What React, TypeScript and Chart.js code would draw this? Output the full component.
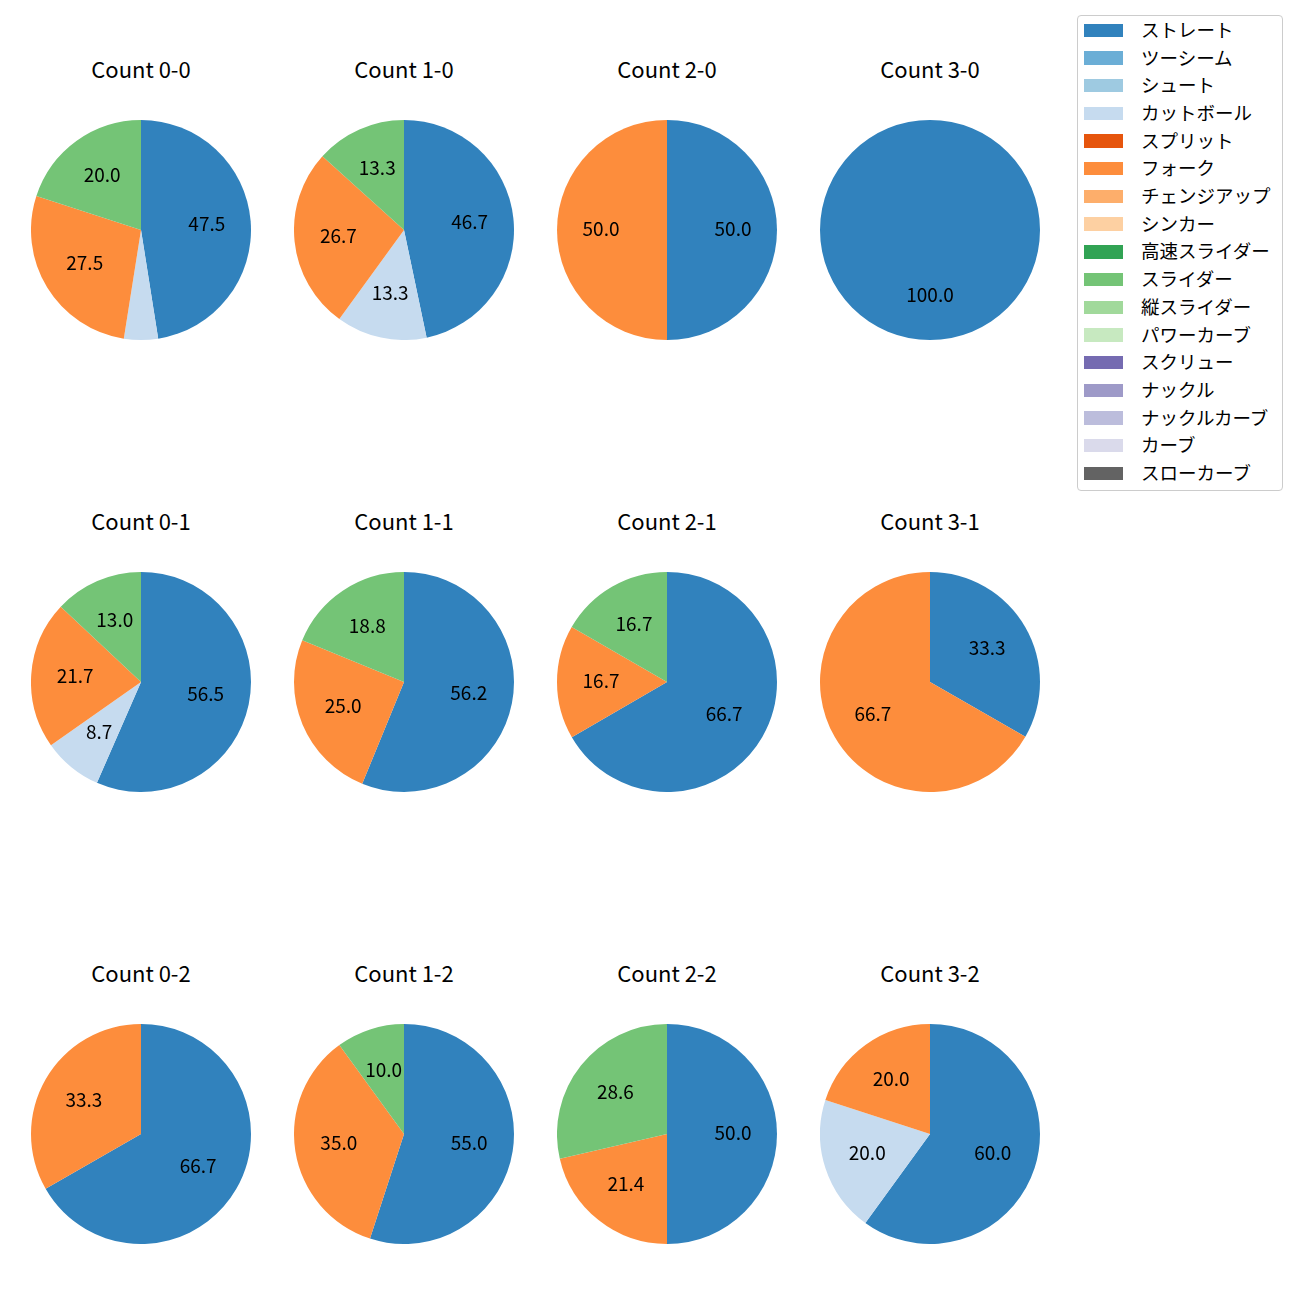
import React, { useEffect, useRef } from "react";
import { Chart, registerables } from "chart.js";

Chart.register(...registerables);

const counts = ["0-0", "1-0", "2-0", "3-0", "0-1", "1-1", "2-1", "3-1", "0-2", "1-2", "2-2", "3-2"];

const pitchTypes = [
  "ストレート", "ツーシーム", "シュート", "カットボール", "スプリット", "フォーク",
  "チェンジアップ", "シンカー", "高速スライダー", "スライダー", "縦スライダー",
  "パワーカーブ", "スクリュー", "ナックル", "ナックルカーブ", "カーブ", "スローカーブ",
];

const pitchColors = [
  "#3182bd", "#6baed6", "#9ecae1", "#c6dbef", "#e6550d", "#fd8d3c",
  "#fdae6b", "#fdd0a2", "#31a354", "#74c476", "#a1d99b",
  "#c7e9c0", "#756bb1", "#9e9ac8", "#bcbddc", "#dadaeb", "#636363",
];

// percentages per count (order of counts above)
const straight = [47.5, 46.7, 50.0, 100.0, 56.5, 56.2, 66.7, 33.3, 66.7, 55.0, 50.0, 60.0];
const cutter = [5.0, 13.3, 0, 0, 8.7, 0, 0, 0, 0, 0, 0, 20.0];
const fork = [27.5, 26.7, 50.0, 0, 21.7, 25.0, 16.7, 66.7, 33.3, 35.0, 21.4, 20.0];
const slider = [20.0, 13.3, 0, 0, 13.0, 18.8, 16.7, 0, 0, 10.0, 28.6, 0];

const seriesByType: Record<string, number[]> = {
  "ストレート": straight,
  "カットボール": cutter,
  "フォーク": fork,
  "スライダー": slider,
};

const FONT = "'Noto Sans CJK JP', 'Noto Sans', sans-serif";
const R = 110;
const colX = [141, 404, 667, 930];
const rowY = [230, 682, 1134];
const titleY = [68, 520, 972];

const pctLabelPlugin = {
  id: "pctLabels",
  afterDatasetsDraw(chart: any) {
    const ctx = chart.ctx;
    const meta = chart.getDatasetMeta(0);
    const data = chart.data.datasets[0].data as number[];
    ctx.save();
    ctx.fillStyle = "#000";
    ctx.font = `19px ${FONT}`;
    ctx.textAlign = "center";
    ctx.textBaseline = "middle";
    meta.data.forEach((arc: any, i: number) => {
      const v = data[i];
      if (!v || v <= 5) return;
      const p = arc.getProps(["x", "y", "startAngle", "endAngle", "outerRadius"], true);
      const mid = (p.startAngle + p.endAngle) / 2;
      const r = p.outerRadius * 0.6;
      ctx.fillText(v.toFixed(1), p.x + Math.cos(mid) * r, p.y + Math.sin(mid) * r - 1.5);
    });
    ctx.restore();
  },
};

function Pie({ idx }: { idx: number }) {
  const ref = useRef<HTMLCanvasElement>(null);
  useEffect(() => {
    const data = pitchTypes.map((t) => (seriesByType[t] ? seriesByType[t][idx] : 0));
    const chart = new Chart(ref.current!, {
      type: "pie",
      data: {
        labels: pitchTypes,
        datasets: [{ data, backgroundColor: pitchColors, borderWidth: 0 }],
      },
      options: {
        animation: false,
        responsive: false,
        maintainAspectRatio: false,
        layout: { padding: 0 },
        plugins: { legend: { display: false }, tooltip: { enabled: false } },
      },
      plugins: [pctLabelPlugin],
    });
    return () => chart.destroy();
  }, [idx]);
  const col = idx % 4;
  const row = Math.floor(idx / 4);
  return (
    <>
      <div
        style={{
          position: "absolute",
          left: colX[col] - 130,
          width: 260,
          top: titleY[row] - 15,
          height: 30,
          lineHeight: "30px",
          textAlign: "center",
          fontFamily: FONT,
          fontSize: 22,
          color: "#000",
        }}
      >
        {"Count " + counts[idx]}
      </div>
      <canvas
        ref={ref}
        width={2 * R}
        height={2 * R}
        style={{ position: "absolute", left: colX[col] - R, top: rowY[row] - R, width: 2 * R, height: 2 * R }}
      />
    </>
  );
}

function Legend() {
  return (
    <div
      style={{
        position: "absolute",
        left: 1077,
        top: 15,
        width: 206,
        height: 476,
        border: "1px solid #cccccc",
        borderRadius: 4,
        boxSizing: "border-box",
        background: "#fff",
      }}
    >
      {pitchTypes.map((t, i) => (
        <div key={t} style={{ position: "absolute", left: 0, top: 14.3 + i * 27.7 - 14, height: 28, width: 204 }}>
          <div
            style={{
              position: "absolute",
              left: 6,
              top: 14 - 6.7,
              width: 39,
              height: 13.4,
              background: pitchColors[i],
            }}
          />
          <div
            style={{
              position: "absolute",
              left: 63,
              top: -1.5,
              height: 28,
              lineHeight: "28px",
              fontFamily: FONT,
              fontSize: 18.5,
              color: "#000",
              whiteSpace: "nowrap",
            }}
          >
            {t}
          </div>
        </div>
      ))}
    </div>
  );
}

export default function App() {
  return (
    <div style={{ position: "absolute", left: 0, top: 0, width: 1300, height: 1300, background: "#fff" }}>
      {counts.map((c, i) => (
        <Pie key={c} idx={i} />
      ))}
      <Legend />
    </div>
  );
}
